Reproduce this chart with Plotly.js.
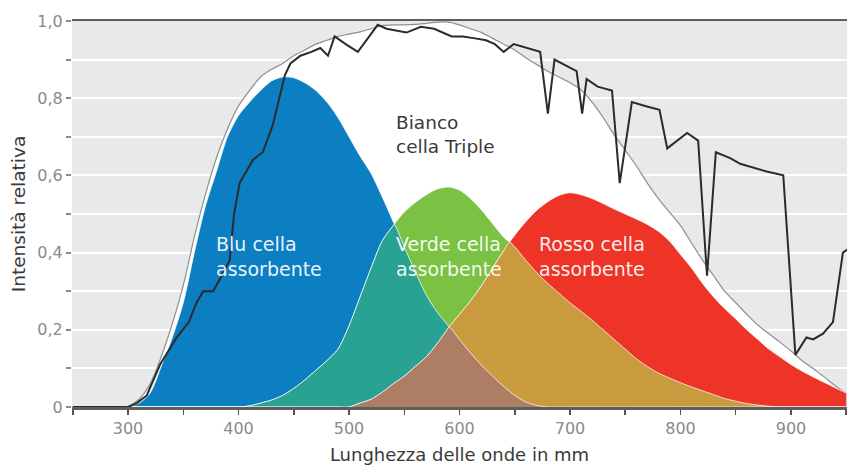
<!DOCTYPE html>
<html>
<head>
<meta charset="utf-8">
<script src="https://cdn.plot.ly/plotly-3.0.1.min.js"></script>
<style>html,body{margin:0;padding:0;background:#fff;}#chart{width:847px;height:470px;}</style>
</head>
<body>
<div id="chart"></div>
<script>
// Wavelength grid (nm), 300..950 step 10
const wavelength = [300,310,320,330,340,350,360,370,380,390,400,410,420,430,440,450,460,470,480,490,500,510,520,530,540,550,560,570,580,590,600,610,620,630,640,650,660,670,680,690,700,710,720,730,740,750,760,770,780,790,800,810,820,830,840,850,860,870,880,890,900,910,920,930,940,950];

// Triple cell total ("Bianco cella Triple") envelope
const white = [0,0.02,0.06,0.13,0.215,0.315,0.44,0.55,0.645,0.72,0.78,0.82,0.855,0.875,0.89,0.91,0.925,0.94,0.95,0.96,0.966,0.972,0.98,0.988,0.99,0.99,0.991,0.994,0.997,0.997,0.99,0.98,0.97,0.955,0.94,0.925,0.905,0.887,0.87,0.855,0.84,0.822,0.79,0.75,0.705,0.665,0.625,0.58,0.54,0.505,0.47,0.425,0.38,0.34,0.30,0.27,0.24,0.212,0.19,0.168,0.145,0.12,0.10,0.078,0.055,0.035];

// Blue absorbing cell
const blue = [0,0.01,0.036,0.105,0.18,0.27,0.40,0.52,0.61,0.70,0.755,0.79,0.82,0.845,0.855,0.853,0.84,0.82,0.79,0.75,0.70,0.65,0.605,0.545,0.48,0.415,0.35,0.29,0.245,0.21,0.175,0.14,0.108,0.08,0.053,0.03,0.013,0.004,0,0,0,0,0,0,0,0,0,0,0,0,0,0,0,0,0,0,0,0,0,0,0,0,0,0,0,0];

// Green absorbing cell
const green = [0,0,0,0,0,0,0,0,0,0,0,0.003,0.01,0.018,0.03,0.048,0.07,0.095,0.12,0.15,0.21,0.285,0.36,0.43,0.47,0.505,0.53,0.55,0.565,0.57,0.562,0.54,0.51,0.475,0.44,0.415,0.38,0.348,0.32,0.295,0.27,0.248,0.225,0.2,0.175,0.15,0.125,0.105,0.088,0.075,0.063,0.052,0.042,0.032,0.022,0.015,0.009,0.005,0.002,0,0,0,0,0,0,0];

// Red absorbing cell
const red = [0,0,0,0,0,0,0,0,0,0,0,0,0,0,0,0,0,0,0,0,0,0.01,0.02,0.038,0.06,0.08,0.105,0.13,0.165,0.205,0.24,0.275,0.315,0.36,0.405,0.445,0.48,0.51,0.532,0.548,0.555,0.55,0.54,0.527,0.513,0.50,0.487,0.473,0.455,0.43,0.395,0.36,0.32,0.285,0.255,0.228,0.2,0.175,0.15,0.13,0.11,0.093,0.078,0.064,0.05,0.036];

// Solar spectrum (dark jagged line)
const sunX = [250,300,308,317,329,344,355,362,368,377,383,392,396,401,413,422,431,437,442,447,456,466,474,481,487,497,508,517,526,534,543,552,565,577,593,603,614,624,632,640,649,660,673,680,686,696,706,711,715,725,738,745,756,768,781,788,797,806,816,824,832,845,854,865,878,893,904,914,920,929,938,947,952];
const sunY = [0,0,0.01,0.03,0.11,0.18,0.22,0.27,0.30,0.30,0.33,0.38,0.50,0.58,0.64,0.66,0.73,0.80,0.86,0.89,0.91,0.92,0.93,0.91,0.96,0.94,0.92,0.955,0.99,0.98,0.975,0.97,0.985,0.98,0.96,0.96,0.955,0.95,0.94,0.92,0.94,0.93,0.92,0.76,0.90,0.885,0.87,0.76,0.85,0.83,0.82,0.58,0.79,0.78,0.77,0.67,0.69,0.71,0.69,0.34,0.66,0.645,0.63,0.62,0.61,0.60,0.135,0.18,0.175,0.19,0.22,0.40,0.41];

// Axis ticks
const xTickVals = [250,300,350,400,450,500,550,600,650,700,750,800,850,900,950];
const xTickText = ['','300','','400','','500','','600','','700','','800','','900',''];
const yTickVals = [0,0.1,0.2,0.3,0.4,0.5,0.6,0.7,0.8,0.9,1.0];
const yTickText = ['0','','0,2','','0,4','','0,6','','0,8','','1,0'];

// Labels
const labelBlue = 'Blu cella<br>assorbente';
const labelGreen = 'Verde cella<br>assorbente';
const labelRed = 'Rosso cella<br>assorbente';
const labelWhite = 'Bianco<br>cella Triple';
const xTitle = 'Lunghezza delle onde in mm';
const yTitle = 'Intensità relativa';

// Overlap (pointwise minimum) of several series, with crossing points inserted
function minCurve(x, series) {
  const xs = [], ys = [];
  const n = x.length;
  const mins = x.map((_, i) => Math.min(...series.map(s => s[i])));
  const argmin = x.map((_, i) => {
    let k = 0; series.forEach((s, j) => { if (s[i] < series[k][i]) k = j; }); return k;
  });
  for (let i = 0; i < n; i++) {
    xs.push(x[i]); ys.push(mins[i]);
    if (i < n - 1 && argmin[i] !== argmin[i + 1]) {
      const a = series[argmin[i]], b = series[argmin[i + 1]];
      const d0 = a[i] - b[i], d1 = a[i + 1] - b[i + 1];
      if (d0 !== d1) {
        const t = d0 / (d0 - d1);
        if (t > 0 && t < 1) {
          xs.push(x[i] + t * (x[i + 1] - x[i]));
          ys.push(a[i] + t * (a[i + 1] - a[i]));
        }
      }
    }
  }
  return {x: xs, y: ys};
}

const teal = minCurve(wavelength, [blue, green]);
const gold = minCurve(wavelength, [green, red]);
const brown = minCurve(wavelength, [blue, green, red]);

const edge = {color: 'rgba(255,255,255,0.75)', width: 1, shape: 'spline', smoothing: 0.8};
function area(x, y, color, name, ln) {
  return {x: x, y: y, type: 'scatter', mode: 'lines', fill: 'tozeroy', fillcolor: color,
          line: ln || edge, name: name, hoverinfo: 'skip', showlegend: false};
}

const traces = [
  area(wavelength, white, '#ffffff', 'Bianco cella Triple', {color: '#8f8f8f', width: 1.2, shape: 'spline', smoothing: 0.8}),
  area(wavelength, blue, '#0b7fc2', 'Blu'),
  area(wavelength, green, '#7bc143', 'Verde'),
  area(wavelength, red, '#ee3327', 'Rosso'),
  area(teal.x, teal.y, '#2aa291', 'Blu+Verde'),
  area(gold.x, gold.y, '#c99a3e', 'Verde+Rosso'),
  area(brown.x, brown.y, '#ad7e63', 'Blu+Verde+Rosso'),
  {x: sunX, y: sunY, type: 'scatter', mode: 'lines', line: {color: '#2b2b2b', width: 2}, name: 'Spettro solare', hoverinfo: 'skip', showlegend: false}
];

const labelFont = {family: 'DejaVu Sans, sans-serif', size: 19, color: 'rgba(255,255,255,0.93)'};
const layout = {
  width: 847, height: 470,
  margin: {l: 72, r: 0, t: 21, b: 63},
  paper_bgcolor: '#ffffff',
  plot_bgcolor: '#e8e9eb',
  showlegend: false,
  font: {family: 'DejaVu Sans, sans-serif', color: '#8a8a8a'},
  xaxis: {
    range: [249.3, 950.7], tickvals: xTickVals, ticktext: xTickText,
    ticks: 'outside', ticklen: 5, tickwidth: 1.5, tickcolor: '#555',
    showgrid: false, zeroline: false, showline: true, linecolor: '#5e5e5e', linewidth: 2.5, mirror: true,
    tickfont: {size: 16, color: '#8a8a8a'},
    title: {text: xTitle, font: {size: 18, color: '#3a3a3a'}, standoff: 12}
  },
  yaxis: {
    range: [0, 1], tickvals: yTickVals, ticktext: yTickText,
    ticks: 'outside', ticklen: 5, tickwidth: 2, tickcolor: '#8a8a8a',
    showgrid: true, gridcolor: '#ffffff', gridwidth: 2, zeroline: false, showline: false,
    tickfont: {size: 16, color: '#8a8a8a'},
    title: {text: yTitle, font: {size: 18.5, color: '#3a3a3a'}, standoff: 6}
  },
  annotations: [
    {x: 378, y: 0.39, xref: 'x', yref: 'y', text: labelBlue, showarrow: false, xanchor: 'left', yanchor: 'middle', align: 'left', font: labelFont},
    {x: 541, y: 0.39, xref: 'x', yref: 'y', text: labelGreen, showarrow: false, xanchor: 'left', yanchor: 'middle', align: 'left', font: labelFont},
    {x: 670, y: 0.39, xref: 'x', yref: 'y', text: labelRed, showarrow: false, xanchor: 'left', yanchor: 'middle', align: 'left', font: labelFont},
    {x: 541, y: 0.705, xref: 'x', yref: 'y', text: labelWhite, showarrow: false, xanchor: 'left', yanchor: 'middle', align: 'left',
     font: {family: 'DejaVu Sans, sans-serif', size: 18.5, color: '#3a3a3a'}}
  ]
};

Plotly.newPlot('chart', traces, layout, {staticPlot: true, displayModeBar: false});
</script>
</body>
</html>
